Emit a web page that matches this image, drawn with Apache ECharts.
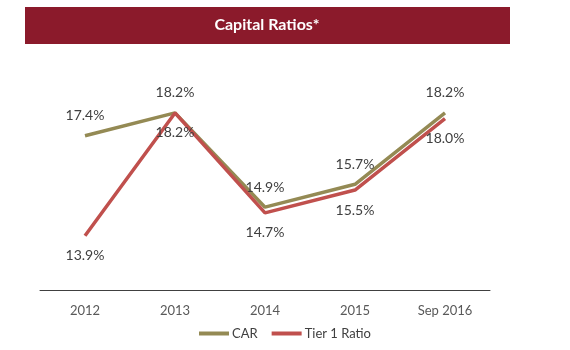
<!DOCTYPE html>
<html>
<head>
<meta charset="utf-8">
<script src="https://cdn.jsdelivr.net/npm/echarts@6/dist/echarts.min.js"></script>
<style>
  html, body { margin: 0; padding: 0; background: #fff; }
  #chart { width: 570px; height: 350px; }
</style>
</head>
<body>
<div id="chart"></div>
<script>
const categories = ['2012', '2013', '2014', '2015', 'Sep 2016'];
const carValues = [17.4, 18.2, 14.9, 15.7, 18.2];
const tier1Values = [13.9, 18.2, 14.7, 15.5, 18.0];

const chart = echarts.init(document.getElementById('chart'));
const font = 'Lato, "Open Sans", sans-serif';

const pctLabel = (pos) => ({
  show: true,
  position: pos,
  distance: 13,
  color: '#404040',
  fontSize: 14,
  fontFamily: font,
  formatter: p => p.value.toFixed(1) + '%'
});

chart.setOption({
  animation: false,
  backgroundColor: '#fff',
  graphic: [{
    type: 'rect',
    shape: { x: 25, y: 7, width: 485, height: 37 },
    style: { fill: '#8B1A2B' }
  }, {
    type: 'text',
    x: 267, y: 25,
    style: {
      text: 'Capital Ratios*',
      fill: '#fff',
      font: 'bold 16px ' + font,
      align: 'center',
      verticalAlign: 'middle'
    }
  }],
  grid: { left: 40, right: 80, top: 61.5, bottom: 60 },
  xAxis: {
    type: 'category',
    data: categories,
    axisLine: { lineStyle: { color: '#404040', width: 1 } },
    axisTick: { show: false },
    axisLabel: { color: '#595959', fontSize: 13, fontFamily: font, margin: 14 }
  },
  yAxis: {
    type: 'value',
    min: 12, max: 20,
    show: false
  },
  legend: {
    bottom: 5,
    left: 'center',
    itemWidth: 30,
    itemHeight: 4,
    itemGap: 14,
    icon: 'rect',
    textStyle: { color: '#404040', fontSize: 13, fontFamily: font, padding: [0, 0, 0, -2] },
    data: ['CAR', 'Tier 1 Ratio']
  },
  series: [{
    name: 'CAR',
    type: 'line',
    data: carValues,
    symbol: 'circle',
    symbolSize: 0,
    lineStyle: { color: '#948A54', width: 3.5 },
    itemStyle: { color: '#948A54' },
    label: pctLabel('top'),
    z: 2
  }, {
    name: 'Tier 1 Ratio',
    type: 'line',
    data: tier1Values,
    symbol: 'circle',
    symbolSize: 0,
    lineStyle: { color: '#C0504D', width: 3.5 },
    itemStyle: { color: '#C0504D' },
    label: pctLabel('bottom'),
    z: 3
  }]
});
</script>
</body>
</html>
